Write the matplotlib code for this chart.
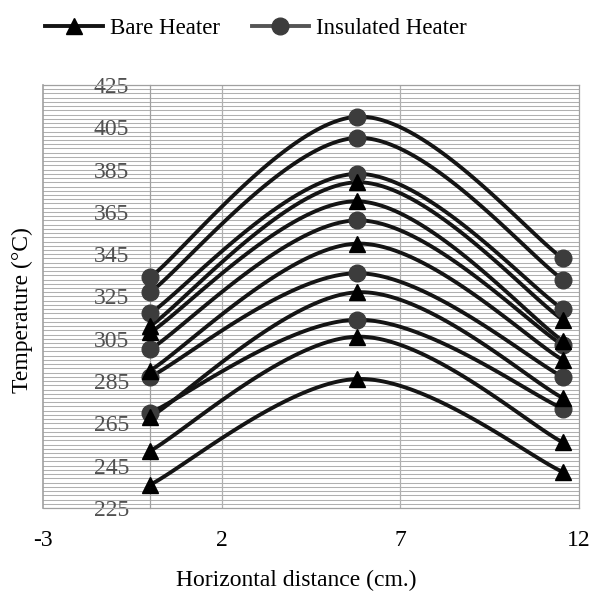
import numpy as np
import matplotlib
matplotlib.use('Agg')
import matplotlib.pyplot as plt
from matplotlib.lines import Line2D

# positions along the heater (cm)
distance = [0, 5.8, 11.55]

# insulated heater runs (left, middle, right)
insulated = [
    [334, 410, 343],
    [327, 400, 333],
    [317, 383, 319],
    [300, 361, 302],
    [287, 336, 287],
    [270, 314, 272],
]

# bare heater runs
bare = [
    [311, 379, 314],
    [308, 370, 304],
    [290, 350, 295],
    [268, 327, 277],
    [252, 306, 256],
    [236, 286, 242],
]

y_ticks = [225, 245, 265, 285, 305, 325, 345, 365, 385, 405, 425]
x_ticks = [-3, 2, 7, 12]


def smooth(xs, ys, n=60):
    # Excel-like smoothed line: cubic bezier with catmull-rom control points
    p = np.column_stack([xs, ys]).astype(float)
    ext = np.vstack([p[0], p, p[-1]])
    out = []
    t = np.linspace(0, 1, n)[:, None]
    for i in range(len(p) - 1):
        p0, p3 = p[i], p[i + 1]
        c1 = p0 + (ext[i + 2] - ext[i]) / 6
        c2 = p3 - (ext[i + 3] - ext[i + 1]) / 6
        seg = ((1 - t) ** 3) * p0 + 3 * ((1 - t) ** 2) * t * c1 \
            + 3 * (1 - t) * t ** 2 * c2 + t ** 3 * p3
        out.append(seg)
    out = np.vstack(out)
    return out[:, 0], out[:, 1]


plt.rcParams['font.family'] = ['Liberation Serif', 'DejaVu Serif']
plt.rcParams['axes.unicode_minus'] = False

fig = plt.figure(figsize=(5.95, 5.95), dpi=100)
ax = fig.add_axes([43 / 595, 1 - 508 / 595, 536 / 595, 423 / 595])

ax.set_xlim(-3, 12)
ax.set_ylim(225, 425)

grid_col = '#b0b0b0'
for yv in np.arange(225, 426, 2):
    ax.axhline(yv, color=grid_col, lw=0.75, zorder=0)
for xv in [2, 7]:
    ax.axvline(xv, color=grid_col, lw=0.9, zorder=0)

line_col = '#141414'
dot_col = '#3c3c3c'

for run in insulated:
    cx, cy = smooth(distance, run)
    ax.plot(cx, cy, color=line_col, lw=2.8, zorder=3, solid_capstyle='round')
    ax.plot(distance, run, 'o', color=dot_col, ms=12, zorder=4)

for run in bare:
    cx, cy = smooth(distance, run)
    ax.plot(cx, cy, color=line_col, lw=2.8, zorder=3, solid_capstyle='round')
    ax.plot(distance, run, '^', color='black', ms=12, zorder=4)

# y axis crosses at x = 0, plot area keeps a grey frame
ax.spines['left'].set_position(('data', 0))
for s in ax.spines.values():
    s.set_color('#a0a0a0')
    s.set_linewidth(0.9)
ax.axvline(-3, color='#a0a0a0', lw=1.2, clip_on=False, zorder=1)

ax.set_yticks(y_ticks)
ax.set_xticks(x_ticks)
ax.tick_params(axis='y', length=0, pad=15, labelsize=17, labelcolor='#505050')
ax.tick_params(axis='x', length=0, pad=16, labelsize=17)

fig.text(296 / 595, 1 - 580 / 595, 'Horizontal distance (cm.)',
         ha='center', va='center', fontsize=17)
fig.text(22 / 595, 1 - 310 / 595, 'Temperature (°C)', rotation=90,
         ha='center', va='center', fontsize=17)

handles = [
    Line2D([], [], color=line_col, lw=2.8, marker='^', ms=12, mfc='black', mec='black'),
    Line2D([], [], color='#555555', lw=2.8, marker='o', ms=12, mfc=dot_col, mec=dot_col),
]
fig.legend(handles, ['Bare Heater', 'Insulated Heater'], loc='center',
           bbox_to_anchor=(256 / 595, 1 - 28 / 595), ncol=2, frameon=False,
           fontsize=16.5, handlelength=2.5, handletextpad=0.3, columnspacing=1.4)

fig.savefig('out.png', dpi=100)
